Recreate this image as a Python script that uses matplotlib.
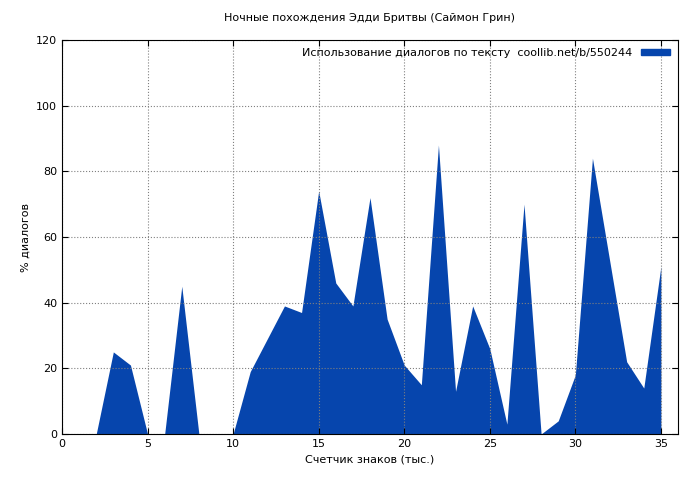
import matplotlib
matplotlib.use("Agg")
import matplotlib.pyplot as plt
from matplotlib.patches import Patch

x_vals = list(range(36))
dialog_pct = [0, 0, 0, 25, 21, 0, 0, 45, 0, 0, 0, 19, 29, 39, 37, 74, 46, 39, 72, 35,
              21, 15, 88, 13, 39, 26, 3, 70, 0, 4, 18, 84, 53, 22, 14, 51]
x_ticks = [0, 5, 10, 15, 20, 25, 30, 35]
y_ticks = [0, 20, 40, 60, 80, 100, 120]

COLOR = "#0645ad"

fig = plt.figure(figsize=(7.0, 4.8), dpi=100)
ax = fig.add_axes([62 / 700, 1 - 434 / 480, 616 / 700, 394 / 480])
ax.fill_between(x_vals, dialog_pct, 0, color=COLOR, linewidth=0)
ax.set_xlim(0, 36)
ax.set_ylim(0, 120)
ax.set_xticks(x_ticks)
ax.set_yticks(y_ticks)
ax.tick_params(labelsize=8, direction="in", length=4, top=True, right=True)
ax.grid(True, linestyle=":", color="#808080", linewidth=0.8)
ax.set_xlabel("Счетчик знаков (тыс.)", fontsize=8)
ax.set_ylabel("% диалогов", fontsize=8)
ax.set_title("Ночные похождения Эдди Бритвы (Саймон Грин)", fontsize=8, pad=14)
leg = ax.legend(handles=[Patch(color=COLOR)],
                labels=["Использование диалогов по тексту  coollib.net/b/550244"],
                loc="upper right", fontsize=8, frameon=False, markerfirst=False,
                handlelength=2.6, handleheight=0.5, borderaxespad=0.3)
fig.savefig("out.png", dpi=100)
